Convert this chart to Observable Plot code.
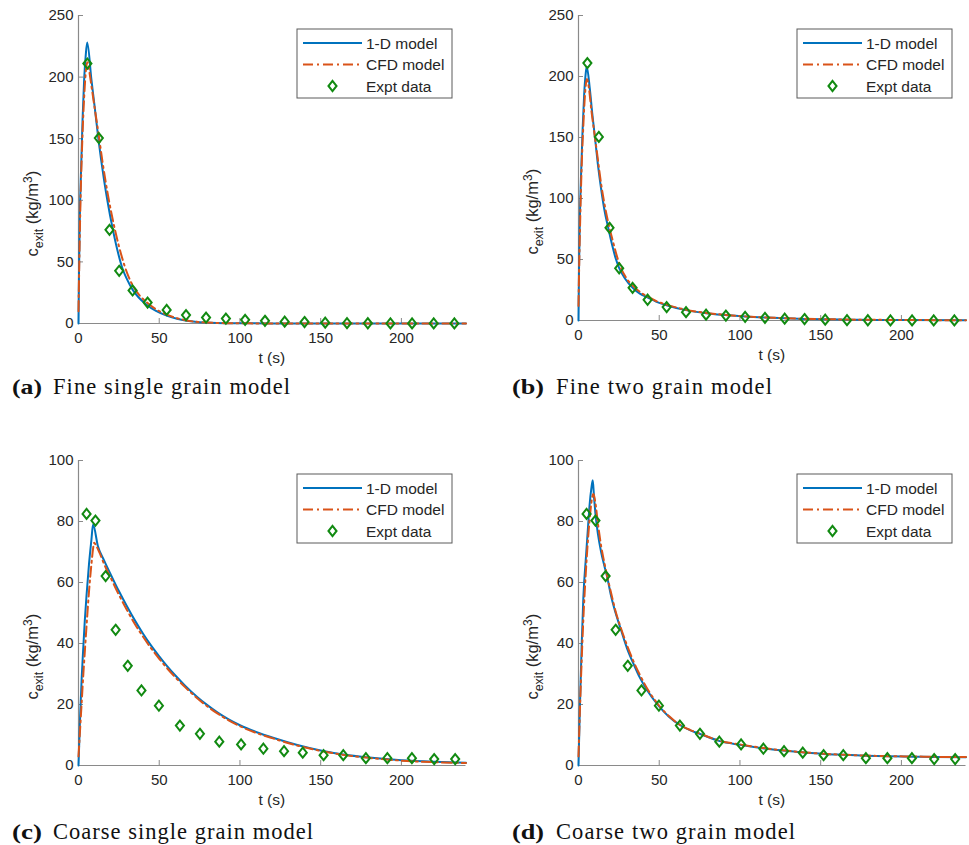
<!DOCTYPE html>
<html><head><meta charset="utf-8">
<script src="https://cdn.jsdelivr.net/npm/d3@7"></script>
<script src="https://cdn.jsdelivr.net/npm/@observablehq/plot@0.6"></script>
<style>
body{margin:0;background:#fff;}
#fig{position:relative;width:969px;height:845px;overflow:hidden;background:#fff;}
.panel{position:absolute;}
#caps{position:absolute;left:0;top:0;pointer-events:none;}
</style></head><body><div id="fig"></div>
<script>
// ---------- data ----------
const xTicks = [0, 50, 100, 150, 200];
const yTicksFine = [0, 50, 100, 150, 200, 250];
const yTicksCoarse = [0, 20, 40, 60, 80, 100];
const seriesNames = ["1-D model", "CFD model", "Expt data"];

const tExptFine = [5.5, 12.6, 19.2, 25.2, 33.5, 42.8, 54.6, 66.6, 79, 91.3, 103.2, 115.5, 127.7, 140, 152.8, 166.3, 179.2, 193.2, 206.6, 220, 232.8];
const cExptFine = [211, 150.5, 76, 42.8, 26.8, 17, 11, 6.8, 4.8, 4, 3, 2.2, 1.5, 1.2, 0.7, 0.3, 0.2, 0.1, 0.1, 0.1, 0.1];

const tExptCoarse = [5, 10.5, 16.8, 23, 30.5, 39, 49.8, 62.8, 75.2, 87.2, 100.7, 114.5, 127.3, 138.9, 151.8, 164, 178, 191.3, 206.5, 220.3, 233.3];
const cExptCoarse = [82.5, 80.3, 62.1, 44.5, 32.7, 24.6, 19.6, 13.1, 10.4, 7.8, 6.9, 5.5, 4.7, 4.2, 3.4, 3.4, 2.4, 2.4, 2.4, 2.1, 2.1];

// [t, c] pairs
const fineSingle1D = [[0,0],[0.3,40],[0.8,85],[1.6,125],[2.5,165],[3.5,198],[4.5,218],[5.4,228],[8,198],[10,176],[12.3,150],[14,133],[16,115],[18,99],[21,78],[24,60],[27.4,44],[30,36],[33.5,27.5],[37,21.5],[42,15.5],[48,10.2],[55,6.2],[61,3.8],[67,2.2],[75,1],[90,0.3],[120,0.05],[240,0]];
const fineSingleCFD = [[0,10],[0.5,50],[1,85],[2,135],[3,170],[4,195],[5,210],[5.6,212],[7,202],[8,193],[10,175],[12.3,155],[15,130],[18,106],[22.6,76],[25,63],[28.5,47],[31,38],[34,30],[38,22.5],[42,17.5],[48,11.5],[55,7],[61,4.3],[67,2.5],[75,1.1],[90,0.3],[120,0.05],[240,0]];

const fineTwo1D = [[0,0],[0.3,40],[0.8,80],[1.6,120],[2.5,155],[3.5,185],[4.5,203],[5.1,208],[7,190],[8.5,170],[10.2,150],[12,128],[14,108],[16,91],[18.4,76],[21,61],[23,51],[25.2,43],[29,34],[33.4,27],[38,22],[42.7,19],[48,15.5],[54.5,12.5],[66.5,8.5],[79,6],[91,4.5],[103,3.3],[116,2.4],[128,1.8],[140,1.3],[153,1],[166,0.7],[180,0.5],[200,0.35],[240,0.2]];
const fineTwoCFD = [[0,12],[0.5,50],[1,80],[2,128],[3,160],[4,185],[5.2,198],[6.5,190],[8,172],[10,152],[12,132],[14,112],[16,96],[19,77],[21.5,64],[23.5,54],[26,44],[29.5,35],[34,28],[38.5,23],[43,19.5],[48,16],[54.5,13],[66.5,8.8],[79,6.2],[91,4.6],[103,3.4],[116,2.5],[128,1.9],[140,1.4],[153,1.05],[166,0.8],[180,0.6],[200,0.4],[240,0.25]];

const coarseSingle1D = [[0,0],[1,16],[2,29],[3,39],[3.9,47.5],[5,56],[6.5,66],[8,74],[9,79],[12,72],[15.9,67.2],[20,62.6],[25,57.2],[30,52.2],[35,47.5],[40,43.2],[45,39.3],[50,35.8],[55,32.5],[60,29.5],[66,26.2],[73.7,22.4],[80,19.7],[86,17.4],[93,15.1],[100,13.2],[110,11],[121,9],[135,6.8],[150,4.9],[165,3.5],[180,2.6],[200,1.7],[220,1.2],[240,0.9]];
const coarseSingleCFD = [[0,3],[1,12],[2,21],[3,30],[4,38],[5.2,47.5],[6.5,57],[8,66],[9,71],[9.7,73],[11,72],[13,69.8],[15.9,66],[20,61.5],[25,56],[30,51],[35,46.3],[40,42.2],[45,38.4],[50,35],[55,31.8],[60,28.9],[66,25.7],[73.7,22],[80,19.3],[86,17.1],[93,14.8],[100,12.9],[110,10.7],[121,8.8],[135,6.6],[150,4.8],[165,3.4],[180,2.5],[200,1.6],[220,1.1],[240,0.8]];

const coarseTwo1D = [[0,0],[0.8,18],[2,40],[3,55],[4.7,69],[6,79],[6.8,85],[8,91],[8.85,93.5],[9.6,88],[10.5,82.5],[12,76],[14,70],[16,65.5],[17.7,62],[20,56],[23,50],[26.3,44.5],[30,38.5],[34.6,32.7],[38,28.8],[42.8,24.4],[49.4,19.7],[56,16],[63,13.2],[69,11.6],[75,10.4],[87.5,8],[100,6.8],[115,5.6],[128,4.8],[140,4.3],[152,3.8],[165,3.5],[178,3.2],[192,3],[207,2.9],[220,2.8],[240,2.7]];
const coarseTwoCFD = [[0,3],[1,20],[2,35],[3,48],[4.5,63],[6,75],[7.5,84],[8.5,88],[9.3,89],[10.5,86],[12,79.5],[14,72],[16,66.5],[18,61.5],[20,57],[23,50.5],[26.3,45],[30,39.5],[34.6,33.5],[38,29.7],[42.8,25],[49.4,20],[56,16.2],[63,13.3],[69,11.7],[75,10.5],[87.5,8.1],[100,6.9],[115,5.7],[128,4.9],[140,4.3],[152,3.85],[165,3.5],[178,3.25],[192,3.05],[207,2.95],[220,2.85],[240,2.75]];

const captionTags = ["(a)", "(b)", "(c)", "(d)"];
const captionTexts = ["Fine single grain model", "Fine two grain model", "Coarse single grain model", "Coarse two grain model"];

// ---------- style ----------
const BLUE = "#0072BD", ORANGE = "#D95319", GREEN = "#118a11";
const AXIS = "#8a8a8a", TXT = "#262626";
const DASH = "10,4,2,4";
const FONT = "'Liberation Sans', Arial, Helvetica, sans-serif";

const diamondSym = {
  draw(ctx, size) {
    const r = Math.sqrt(size / Math.PI);
    const h = r * 1.12, w = r * 0.9;
    ctx.moveTo(0, -h); ctx.lineTo(w, 0); ctx.lineTo(0, h); ctx.lineTo(-w, 0); ctx.closePath();
  }
};

const panels = [
  {left: 0,   top: 0,   y0: 323, ymax: 250, yTicks: yTicksFine,   oneD: fineSingle1D,   cfd: fineSingleCFD,   t: tExptFine,   c: cExptFine},
  {left: 500, top: 0,   y0: 320, ymax: 250, yTicks: yTicksFine,   oneD: fineTwo1D,      cfd: fineTwoCFD,      t: tExptFine,   c: cExptFine},
  {left: 0,   top: 445, y0: 320, ymax: 100, yTicks: yTicksCoarse, oneD: coarseSingle1D, cfd: coarseSingleCFD, t: tExptCoarse, c: cExptCoarse},
  {left: 500, top: 445, y0: 320, ymax: 100, yTicks: yTicksCoarse, oneD: coarseTwo1D,    cfd: coarseTwoCFD,    t: tExptCoarse, c: cExptCoarse}
];

const fig = document.getElementById("fig");

panels.forEach((p) => {
  const W = 469, H = 370, mL = 78, mR = 3.5, mT = 15, mB = H - p.y0;
  const plotW = W - mL - mR, plotH = p.y0 - mT;
  const expt = p.t.map((t, i) => ({t, c: p.c[i]}));
  const chart = Plot.plot({
    width: W, height: H, marginLeft: mL, marginRight: mR, marginTop: mT, marginBottom: mB,
    style: {fontFamily: FONT, fontSize: "15px", color: TXT, background: "transparent", overflow: "visible"},
    x: {domain: [0, 240], label: null},
    y: {domain: [0, p.ymax], label: null},
    marks: [
      Plot.axisX(xTicks, {tickSize: 0, tickPadding: 9, label: null, fill: TXT}),
      Plot.axisX(xTicks, {tickSize: 5, dy: -5, text: null, label: null, stroke: AXIS}),
      Plot.axisY(p.yTicks, {tickSize: 0, tickPadding: 5, label: null, fill: TXT}),
      Plot.axisY(p.yTicks, {tickSize: 5, dx: 5, text: null, label: null, stroke: AXIS}),
      Plot.ruleX([0], {stroke: AXIS, strokeWidth: 1.2}),
      Plot.ruleY([0], {stroke: AXIS, strokeWidth: 1.2}),
      Plot.line(p.oneD, {x: d => d[0], y: d => d[1], stroke: BLUE, strokeWidth: 2, curve: "monotone-x"}),
      Plot.line(p.cfd, {x: d => d[0], y: d => d[1], stroke: ORANGE, strokeWidth: 2, strokeDasharray: DASH, curve: "monotone-x"}),
      Plot.dot(expt, {x: "t", y: "c", symbol: diamondSym, r: 4.5, stroke: GREEN, strokeWidth: 2, fill: "none"})
    ]
  });
  const div = document.createElement("div");
  div.className = "panel";
  div.style.left = p.left + "px";
  div.style.top = p.top + "px";
  div.appendChild(chart);
  fig.appendChild(div);

  const svg = d3.select(chart);
  // y label
  const yl = svg.append("text")
    .attr("transform", `translate(${mL - 40},${mT + 0.645 * plotH}) rotate(-90)`)
    .attr("text-anchor", "middle").attr("fill", TXT)
    .attr("font-family", FONT).attr("font-size", 16.5);
  yl.append("tspan").text("c");
  yl.append("tspan").attr("font-size", 12.5).attr("dy", 4.5).text("exit");
  yl.append("tspan").attr("dy", -4.5).text(" (kg/m");
  yl.append("tspan").attr("font-size", 12).attr("dy", -6.5).text("3");
  yl.append("tspan").attr("dy", 6.5).text(")");
  // x label
  svg.append("text").attr("x", mL + plotW / 2).attr("y", p.y0 + 40)
    .attr("text-anchor", "middle").attr("fill", TXT)
    .attr("font-family", FONT).attr("font-size", 15.5).text("t (s)");
  // legend
  const lg = svg.append("g").attr("transform", `translate(${mL},${mT})`)
    .attr("font-family", FONT).attr("font-size", 15.5).attr("fill", TXT)
    .attr("text-anchor", "start");
  lg.append("rect").attr("x", 219).attr("y", 14).attr("width", 155).attr("height", 69)
    .attr("fill", "#fff").attr("stroke", "#5a5a5a").attr("stroke-width", 1);
  const rowsY = [28, 49.5, 71];
  lg.append("line").attr("x1", 225).attr("x2", 284).attr("y1", rowsY[0]).attr("y2", rowsY[0])
    .attr("stroke", BLUE).attr("stroke-width", 2);
  lg.append("line").attr("x1", 225).attr("x2", 284).attr("y1", rowsY[1]).attr("y2", rowsY[1])
    .attr("stroke", ORANGE).attr("stroke-width", 2).attr("stroke-dasharray", DASH);
  lg.append("path").attr("d", d3.symbol(diamondSym, 4.5 * 4.5 * Math.PI)())
    .attr("transform", `translate(254.5,${rowsY[2]})`)
    .attr("fill", "none").attr("stroke", GREEN).attr("stroke-width", 2);
  seriesNames.forEach((n, i) => {
    lg.append("text").attr("x", 288).attr("y", rowsY[i]).attr("dy", "0.36em")
      .attr("text-anchor", "start").text(n);
  });
});

// captions
const capPos = [
  {x1: 12, x2: 53, y: 394, w1: 30, w2: 237},
  {x1: 512, x2: 556, y: 394, w1: 32, w2: 216},
  {x1: 12, x2: 53, y: 839, w1: 30, w2: 260},
  {x1: 512, x2: 556, y: 839, w1: 32, w2: 239}
];
const caps = d3.select(fig).append("svg").attr("id", "caps").attr("width", 969).attr("height", 845);
capPos.forEach((c, i) => {
  caps.append("text").attr("x", c.x1).attr("y", c.y)
    .attr("font-family", "'Liberation Serif', 'DejaVu Serif', serif").attr("font-weight", "bold")
    .attr("font-size", 22).attr("fill", "#111")
    .attr("textLength", c.w1).attr("lengthAdjust", "spacingAndGlyphs").text(captionTags[i]);
  caps.append("text").attr("x", c.x2).attr("y", c.y)
    .attr("font-family", "'Liberation Serif', 'DejaVu Serif', serif")
    .attr("font-size", 22.5).attr("fill", "#111")
    .attr("textLength", c.w2).attr("lengthAdjust", "spacing").text(captionTexts[i]);
});
</script></body></html>
